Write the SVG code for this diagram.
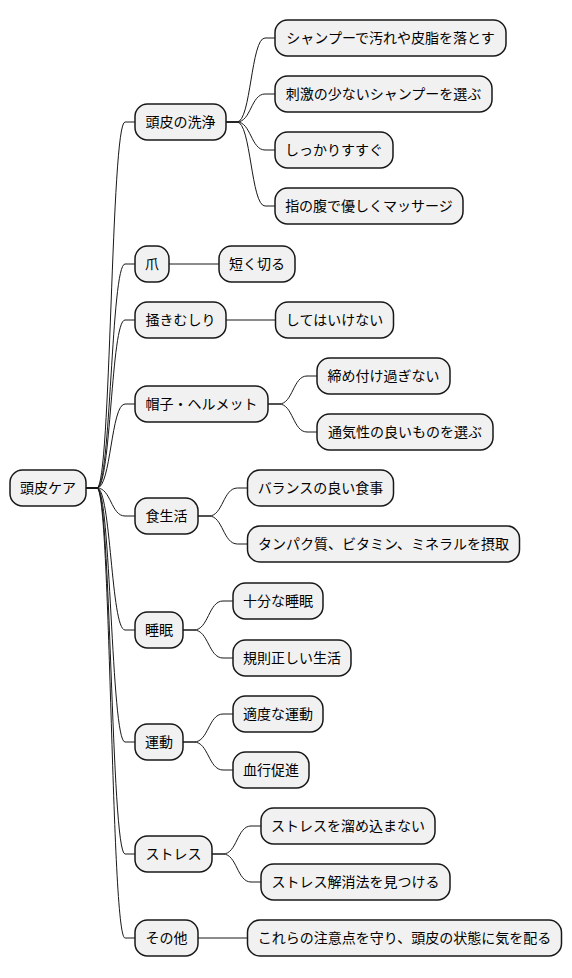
<svg xmlns="http://www.w3.org/2000/svg" width="572" height="978" viewBox="0 0 572 978">
<style>
.n rect{fill:#F1F1F1;stroke:#181818;stroke-width:1.5}
.n text{font-family:"Noto Sans CJK JP","Noto Sans",sans-serif;font-size:14px;fill:#000;text-anchor:middle}
.c path{fill:none;stroke:#181818;stroke-width:1}
</style>
<rect width="572" height="978" fill="#FFFFFF"/>
<g class="c" id="connectors">
<path d="M86,488 L97,488 C111,488 111,122 125,122 L135,122"/>
<path d="M86,488 L97,488 C111,488 111,264 125,264 L135,264"/>
<path d="M86,488 L97,488 C111,488 111,320 125,320 L135,320"/>
<path d="M86,488 L97,488 C111,488 111,404 125,404 L135,404"/>
<path d="M86,488 L97,488 C111,488 111,516 125,516 L135,516"/>
<path d="M86,488 L97,488 C111,488 111,630 125,630 L135,630"/>
<path d="M86,488 L97,488 C111,488 111,742 125,742 L135,742"/>
<path d="M86,488 L97,488 C111,488 111,854 125,854 L135,854"/>
<path d="M86,488 L97,488 C111,488 111,938 125,938 L135,938"/>
<path d="M226,122 L237,122 C251,122 251,38 265,38 L275,38"/>
<path d="M226,122 L237,122 C251,122 251,94 265,94 L275,94"/>
<path d="M226,122 L237,122 C251,122 251,150 265,150 L275,150"/>
<path d="M226,122 L237,122 C251,122 251,206 265,206 L275,206"/>
<path d="M169,264 L219,264"/>
<path d="M226,320 L275.5,320"/>
<path d="M268,404 L279,404 C293,404 293,376 307,376 L317,376"/>
<path d="M268,404 L279,404 C293,404 293,432 307,432 L317,432"/>
<path d="M198,516 L209,516 C223,516 223,488 237.5,488 L247.5,488"/>
<path d="M198,516 L209,516 C223,516 223,544 237.5,544 L247.5,544"/>
<path d="M183,630 L194,630 C208.5,630 208.5,601 223,601 L233,601"/>
<path d="M183,630 L194,630 C208.5,630 208.5,658 223,658 L233,658"/>
<path d="M183,742 L194,742 C208.5,742 208.5,714 223,714 L233,714"/>
<path d="M183,742 L194,742 C208.5,742 208.5,770 223,770 L233,770"/>
<path d="M212,854 L223,854 C237,854 237,826 251,826 L261,826"/>
<path d="M212,854 L223,854 C237,854 237,882 251,882 L261,882"/>
<path d="M198,938 L247.5,938"/>
</g>
<g class="n" id="n0"><rect x="10" y="470" width="76" height="36" rx="12.5"/><text x="48" y="493">頭皮ケア</text></g>
<g class="n" id="n1"><rect x="135" y="104" width="91" height="36" rx="12.5"/><text x="180.5" y="127">頭皮の洗浄</text></g>
<g class="n" id="n1a"><rect x="275" y="20" width="231" height="36" rx="12.5"/><text x="390.5" y="43">シャンプーで汚れや皮脂を落とす</text></g>
<g class="n" id="n1b"><rect x="275" y="76" width="217" height="36" rx="12.5"/><text x="383.5" y="99">刺激の少ないシャンプーを選ぶ</text></g>
<g class="n" id="n1c"><rect x="275" y="132" width="118" height="36" rx="12.5"/><text x="334" y="155">しっかりすすぐ</text></g>
<g class="n" id="n1d"><rect x="275" y="188" width="188" height="36" rx="12.5"/><text x="369" y="211">指の腹で優しくマッサージ</text></g>
<g class="n" id="n2"><rect x="135" y="246" width="34" height="36" rx="12.5"/><text x="152" y="269">爪</text></g>
<g class="n" id="n2a"><rect x="219" y="246" width="76" height="36" rx="12.5"/><text x="257" y="269">短く切る</text></g>
<g class="n" id="n3"><rect x="135" y="302" width="91" height="36" rx="12.5"/><text x="180.5" y="325">掻きむしり</text></g>
<g class="n" id="n3a"><rect x="275.5" y="302" width="118" height="36" rx="12.5"/><text x="334.5" y="325">してはいけない</text></g>
<g class="n" id="n4"><rect x="135" y="386" width="133" height="36" rx="12.5"/><text x="201.5" y="409">帽子・ヘルメット</text></g>
<g class="n" id="n4a"><rect x="317" y="358" width="133" height="36" rx="12.5"/><text x="383.5" y="381">締め付け過ぎない</text></g>
<g class="n" id="n4b"><rect x="317" y="414" width="176" height="36" rx="12.5"/><text x="405" y="437">通気性の良いものを選ぶ</text></g>
<g class="n" id="n5"><rect x="135" y="498" width="63" height="36" rx="12.5"/><text x="166.5" y="521">食生活</text></g>
<g class="n" id="n5a"><rect x="247.5" y="470" width="146" height="36" rx="12.5"/><text x="320.5" y="493">バランスの良い食事</text></g>
<g class="n" id="n5b"><rect x="247.5" y="526" width="272" height="36" rx="12.5"/><text x="383.5" y="549">タンパク質、ビタミン、ミネラルを摂取</text></g>
<g class="n" id="n6"><rect x="135" y="612" width="48" height="36" rx="12.5"/><text x="159" y="635">睡眠</text></g>
<g class="n" id="n6a"><rect x="233" y="583" width="90" height="36" rx="12.5"/><text x="278" y="606">十分な睡眠</text></g>
<g class="n" id="n6b"><rect x="233" y="640" width="118" height="36" rx="12.5"/><text x="292" y="663">規則正しい生活</text></g>
<g class="n" id="n7"><rect x="135" y="724" width="48" height="36" rx="12.5"/><text x="159" y="747">運動</text></g>
<g class="n" id="n7a"><rect x="233" y="696" width="90" height="36" rx="12.5"/><text x="278" y="719">適度な運動</text></g>
<g class="n" id="n7b"><rect x="233" y="752" width="76" height="36" rx="12.5"/><text x="271" y="775">血行促進</text></g>
<g class="n" id="n8"><rect x="135" y="836" width="77" height="36" rx="12.5"/><text x="173.5" y="859">ストレス</text></g>
<g class="n" id="n8a"><rect x="261" y="808" width="174" height="36" rx="12.5"/><text x="348" y="831">ストレスを溜め込まない</text></g>
<g class="n" id="n8b"><rect x="261" y="864" width="189" height="36" rx="12.5"/><text x="355.5" y="887">ストレス解消法を見つける</text></g>
<g class="n" id="n9"><rect x="135" y="920" width="63" height="36" rx="12.5"/><text x="166.5" y="943">その他</text></g>
<g class="n" id="n9a"><rect x="247.5" y="920" width="314" height="36" rx="12.5"/><text x="404.5" y="943">これらの注意点を守り、頭皮の状態に気を配る</text></g>
</svg>
